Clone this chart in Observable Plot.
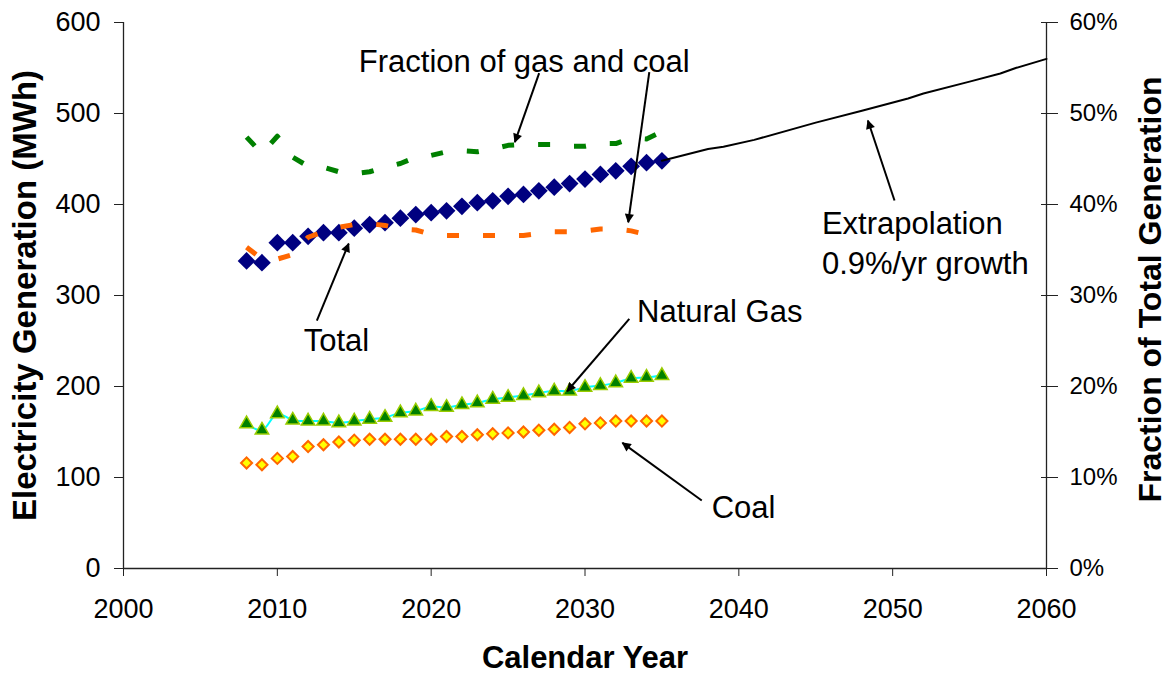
<!DOCTYPE html>
<html>
<head>
<meta charset="utf-8">
<script src="https://cdn.jsdelivr.net/npm/d3@7"></script>
<script src="https://cdn.jsdelivr.net/npm/@observablehq/plot@0.6"></script>
<style>
  html, body { margin: 0; padding: 0; background: #fff; }
  #chart { width: 1167px; height: 675px; }
</style>
</head>
<body>
<div id="chart"></div>
<script>
// ---- data ----
const years = [2008,2009,2010,2011,2012,2013,2014,2015,2016,2017,2018,2019,2020,2021,2022,2023,2024,2025,2026,2027,2028,2029,2030,2031,2032,2033,2034,2035];
const total = [338,336,358,358,365,369,369,374,378,380,385,389,391,393,398,402,404,409,411,415,419,423,428,433,437,442,446,448];
const naturalGas = [159,152,170,163,162,162,160,162,164,166,171,173,178,177,180,182,186,188,190,193,195,195,199,201,204,209,210,212];
const coal = [116,114,121,123,134,136,139,141,142,142,142,142,142,145,145,147,148,149,150,152,153,155,159,160,162,162,162,162];
// fractions of total generation, percent (right axis)
const gasFraction = [47.4,45.6,47.5,45.2,44.2,44.1,43.6,43.4,43.6,44.1,44.5,45.2,45.4,45.8,45.9,45.8,46.1,46.5,46.6,46.6,46.6,46.4,46.4,46.7,46.7,47.3,47.2,48.0];
const coalFraction = [35.3,34.0,34.0,34.5,36.4,37.0,37.5,37.8,37.9,37.7,37.3,37.2,36.7,36.6,36.6,36.6,36.6,36.6,36.6,36.8,37.0,37.0,37.1,37.3,37.3,37.1,36.7,36.6];
// extrapolation, 0.9%/yr growth
const extrapYears = [2035,2038,2039,2041,2045,2048,2051,2052,2055,2057,2058,2060];
const extrapValues = [448,461,463.5,471,490,503,516.5,522,535,544,550,560];

const xTicks = [2000,2010,2020,2030,2040,2050,2060];
const yTicks = [0,100,200,300,400,500,600];
const pctTicks = [0,10,20,30,40,50,60];

// annotations (data units)
const noteText = ["Fraction of gas and coal","Total","Natural Gas","Coal","Extrapolation","0.9%/yr growth"];
const noteX = [2026.05,2013.84,2038.76,2040.31,2045.4,2045.4];
const noteY = [556,249.5,282,66.5,378,334];
const noteAnchor = ["middle","middle","middle","middle","start","start"];
const arrowX1 = [2027.02,2034.18,2012.57,2032.88,2037.59,2050.12];
const arrowY1 = [544.3,545.4,272.5,274.4,74.7,404.4];
const arrowX2 = [2025.44,2032.81,2014.64,2028.84,2032.43,2048.39];
const arrowY2 = [468.5,380.5,357.1,194.8,138.1,492.3];

// ---- tables ----
const series = years.map((yr, i) => ({year: yr, total: total[i], gas: naturalGas[i], coal: coal[i], gasF: gasFraction[i], coalF: coalFraction[i]}));
const extrap = extrapYears.map((yr, i) => ({year: yr, v: extrapValues[i]}));
const notes = noteText.map((t, i) => ({t, x: noteX[i], y: noteY[i], a: noteAnchor[i]}));
const arrows = arrowX1.map((x1, i) => ({x1, y1: arrowY1[i], x2: arrowX2[i], y2: arrowY2[i]}));
const pctScale = 10; // 60% on right axis aligns with 600 on left axis

const font = "'Liberation Sans', Arial, sans-serif";
const axisColor = "#222";

const chart = Plot.plot({
  width: 1167,
  height: 675,
  marginLeft: 123,
  marginRight: 121,
  marginTop: 22,
  marginBottom: 107,
  style: {fontFamily: font, fontSize: "27px", color: "#000", background: "#fff", overflow: "visible"},
  x: {domain: [2000, 2060]},
  y: {domain: [0, 600]},
  marks: [
    Plot.axisX(xTicks, {tickFormat: d => String(d), tickSize: 8, tickPadding: 22, label: null, stroke: axisColor}),
    Plot.axisY(yTicks, {anchor: "left", tickSize: 9, tickPadding: 14, label: null, stroke: axisColor}),
    Plot.axisY(pctTicks.map(p => p * pctScale), {anchor: "right", tickSize: 17, dx: -6, tickPadding: 12, fontSize: 24, tickFormat: d => (d / pctScale) + "%", label: null, stroke: axisColor}),
    Plot.ruleX([2000, 2060], {stroke: axisColor, strokeWidth: 1.3}),
    Plot.ruleY([0], {stroke: axisColor, strokeWidth: 1.3}),

    // Total
    Plot.dot(series, {x: "year", y: "total", symbol: "diamond2", r: 8, fill: "#000080", stroke: "none"}),
    Plot.line(extrap, {x: "year", y: "v", stroke: "#000", strokeWidth: 2}),
    // Natural gas
    Plot.line(series, {x: "year", y: "gas", stroke: "#00FFFF", strokeWidth: 2, curve: "catmull-rom"}),
    Plot.dot(series, {x: "year", y: "gas", symbol: "triangle", r: 5, fill: "#008000", stroke: "#99CC00", strokeWidth: 1.5}),
    // Coal
    Plot.dot(series, {x: "year", y: "coal", symbol: "diamond2", r: 5, fill: "#FFFF00", stroke: "#FF6600", strokeWidth: 2}),
    // Fractions (right axis)
    Plot.line(series, {x: "year", y: d => d.coalF * pctScale, stroke: "#FF6600", strokeWidth: 5, strokeDasharray: "12,24", strokeLinecap: "butt"}),
    Plot.line(series, {x: "year", y: d => d.gasF * pctScale, stroke: "#008000", strokeWidth: 5, strokeDasharray: "12,24", strokeLinecap: "butt"}),

    // annotation arrows
    Plot.link(arrows, {x1: "x1", y1: "y1", x2: "x2", y2: "y2", stroke: "#000", strokeWidth: 2}),
    // annotation labels
    Plot.text(notes.filter(d => d.a === "middle"), {x: "x", y: "y", text: "t", textAnchor: "middle", fontSize: 31, fill: "#000"}),
    Plot.text(notes.filter(d => d.a === "start"), {x: "x", y: "y", text: "t", textAnchor: "start", fontSize: 31, fill: "#000"}),

    // axis titles
    Plot.text(["Calendar Year"], {frameAnchor: "bottom", dy: 99, fontSize: 31, fontWeight: "bold", fill: "#000"}),
    Plot.text(["Electricity Generation (MWh)"], {frameAnchor: "left", textAnchor: "middle", lineAnchor: "middle", dx: -98, rotate: -90, fontSize: 33, fontWeight: "bold", fill: "#000"}),
    Plot.text(["Fraction of Total Generation"], {frameAnchor: "right", textAnchor: "middle", lineAnchor: "middle", dx: 104, dy: -6, rotate: -90, fontSize: 32, fontWeight: "bold", fill: "#000"})
  ]
});

// filled arrowheads on annotation links
const svg = d3.select(chart.tagName.toLowerCase() === "svg" ? chart : chart.querySelector("svg"));
svg.insert("defs", ":first-child").html(
  '<marker id="ahead" viewBox="0 0 10 10" refX="9" refY="5" markerWidth="6" markerHeight="4.6" orient="auto" markerUnits="strokeWidth"><path d="M0,0L10,5L0,10z" fill="#000"/></marker>'
);
svg.selectAll('g[aria-label="link"] path').attr("marker-end", "url(#ahead)");

document.getElementById("chart").appendChild(chart);
</script>
</body>
</html>
